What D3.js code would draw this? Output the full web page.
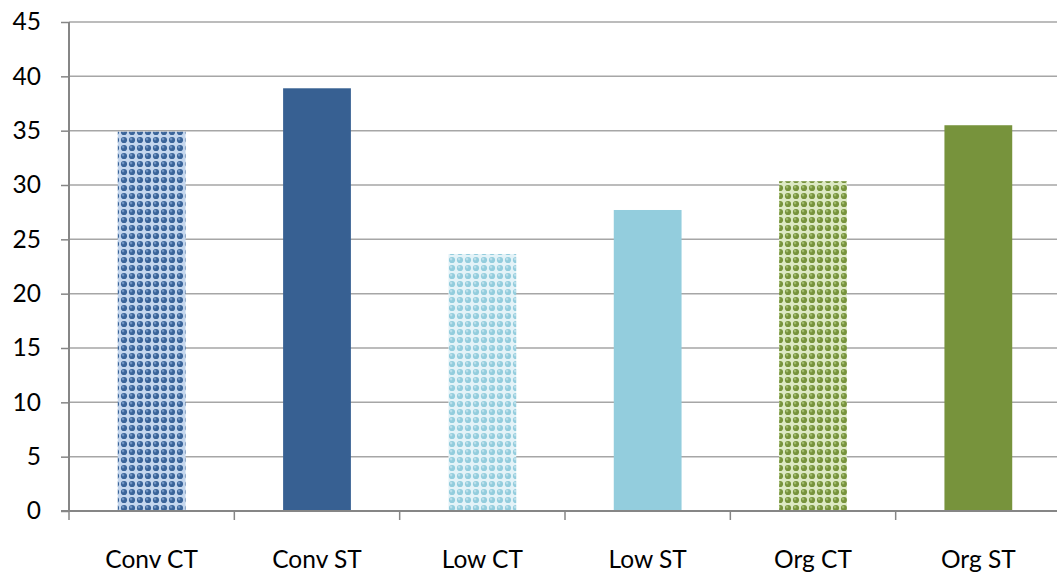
<!DOCTYPE html>
<html>
<head>
<meta charset="utf-8">
<script src="https://cdn.jsdelivr.net/npm/d3@7"></script>
<style>
  html, body { margin: 0; padding: 0; background: #fff; }
  svg { display: block; }
  text { font-family: Lato, "Open Sans", sans-serif; fill: #000; }
</style>
</head>
<body>
<svg id="chart" width="1057" height="576"></svg>
<script>
// Treatments and their values
const categories = ["Conv CT", "Conv ST", "Low CT", "Low ST", "Org CT", "Org ST"];
const values = [34.9, 38.9, 23.65, 27.7, 30.35, 35.5];
const yTicks = [0, 5, 10, 15, 20, 25, 30, 35, 40, 45];

// Fill per bar: patterned (CT) or solid (ST)
const fillStyle = ["dots-conv", "#376092", "dots-low", "#93cddd", "dots-org", "#77933c"];

const W = 1057, H = 576;
const margin = { left: 69, right: -4, top: 22, bottom: 65 };

const svg = d3.select("#chart");

// Sphere-dot pattern definitions
const defs = svg.append("defs");
const patterns = [
  { id: "dots-conv", dark: "#3a6499", light: "#c5d7ee", mid: "#7094c3" },
  { id: "dots-low", dark: "#93cddd", light: "#e4f3f8", mid: "#badfeb" },
  { id: "dots-org", dark: "#77933c", light: "#dde9c4", mid: "#9fba6a" }
];
const P = 8;
patterns.forEach(p => {
  const pat = defs.append("pattern")
    .attr("id", p.id)
    .attr("patternUnits", "userSpaceOnUse")
    .attr("width", P).attr("height", P);
  pat.append("rect").attr("width", P).attr("height", P).attr("fill", p.light);
  pat.append("circle").attr("cx", P / 2).attr("cy", P / 2).attr("r", 3.1).attr("fill", p.dark);
  pat.append("circle").attr("cx", P / 2 - 0.9).attr("cy", P / 2 - 0.9).attr("r", 1.3).attr("fill", p.mid);
});

const x = d3.scaleBand()
  .domain(categories)
  .range([margin.left, W - margin.right])
  .paddingInner(0.59)
  .paddingOuter(0.295);

const y = d3.scaleLinear()
  .domain([0, 45])
  .range([H - margin.bottom, margin.top]);

// Horizontal gridlines
svg.append("g")
  .selectAll("line")
  .data(yTicks.filter(t => t > 0))
  .join("line")
  .attr("x1", margin.left)
  .attr("x2", W)
  .attr("y1", d => y(d))
  .attr("y2", d => y(d))
  .attr("stroke", "#a6a6a6")
  .attr("stroke-width", 1.5);

// Bars
svg.append("g")
  .selectAll("rect")
  .data(categories)
  .join("rect")
  .attr("x", d => x(d))
  .attr("width", x.bandwidth())
  .attr("y", (d, i) => y(values[i]))
  .attr("height", (d, i) => y(0) - y(values[i]))
  .attr("fill", (d, i) => fillStyle[i].startsWith("#") ? fillStyle[i] : `url(#${fillStyle[i]})`);

// Y axis
const yAxis = svg.append("g")
  .attr("transform", `translate(${margin.left},0)`)
  .call(d3.axisLeft(y).tickValues(yTicks).tickSize(8).tickPadding(8));
yAxis.select(".domain").attr("stroke", "#868686").attr("stroke-width", 2)
  .attr("d", `M0,${y(0)}V${y(45)}`);
yAxis.selectAll(".tick line").attr("stroke", "#868686").attr("stroke-width", 1.5);
yAxis.selectAll(".tick text")
  .style("font-family", "Lato, 'Open Sans', sans-serif")
  .attr("font-size", 24.5)
  .attr("fill", "#000")
  .attr("dx", -12);

// X axis with tick marks at category boundaries
const step = x.step();
const boundaries = d3.range(categories.length + 1).map(i => margin.left + i * step);
const xAxis = svg.append("g");
xAxis.append("line")
  .attr("x1", margin.left - 8).attr("x2", W)
  .attr("y1", y(0)).attr("y2", y(0))
  .attr("stroke", "#868686").attr("stroke-width", 2);
xAxis.selectAll("line.tk")
  .data(boundaries)
  .join("line")
  .attr("class", "tk")
  .attr("x1", d => d).attr("x2", d => d)
  .attr("y1", y(0)).attr("y2", y(0) + 9)
  .attr("stroke", "#868686").attr("stroke-width", 1.5);
xAxis.selectAll("text")
  .data(categories)
  .join("text")
  .attr("x", d => x(d) + x.bandwidth() / 2)
  .attr("y", 568)
  .attr("text-anchor", "middle")
  .attr("font-size", 24.5)
  .text(d => d);
</script>
</body>
</html>
